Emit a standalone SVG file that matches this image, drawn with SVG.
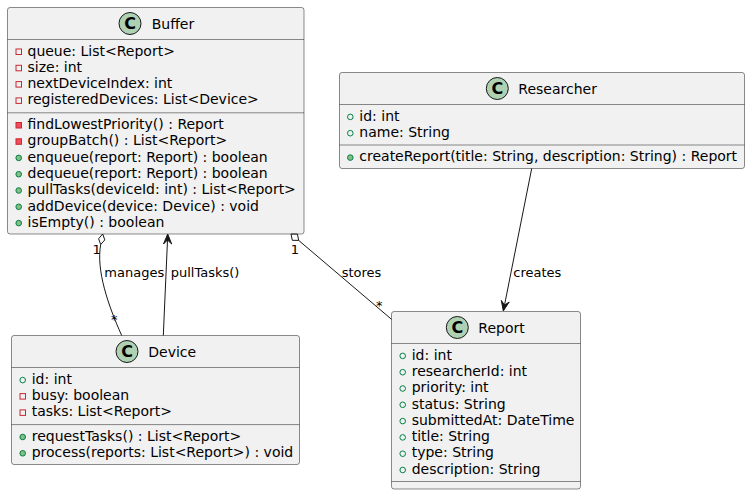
<svg xmlns="http://www.w3.org/2000/svg" width="750" height="495" viewBox="0 0 750 495">
<style>
.box{fill:#F1F1F1;stroke:#181818;stroke-width:0.5}
.sep{stroke:#181818;stroke-width:0.5}
.ci{fill:#ADD1B2;stroke:#181818;stroke-width:1}
.cl{font-family:"DejaVu Sans",sans-serif;font-size:16px;font-weight:bold;fill:#000;text-anchor:middle}
.nm{font-family:"DejaVu Sans",sans-serif;font-size:14px;fill:#000}
.m{font-family:"DejaVu Sans",sans-serif;font-size:14px;fill:#000}
.lb{font-family:"DejaVu Sans",sans-serif;font-size:13px;fill:#000}
.pf{fill:none;stroke:#C82930;stroke-width:1}
.pm{fill:#F24D5C;stroke:#C82930;stroke-width:1}
.uf{fill:none;stroke:#038048;stroke-width:1}
.um{fill:#84BE84;stroke:#038048;stroke-width:1}
.ln{fill:none;stroke:#181818;stroke-width:1}
.ah{fill:#181818;stroke:#181818;stroke-width:1}
.dm{fill:none;stroke:#181818;stroke-width:1}
</style>
<g id="Buffer">
<rect class="box" x="7.5" y="7.5" width="296.5" height="226.5" rx="2.5"/>
<circle class="ci" cx="130" cy="23.5" r="11"/>
<text class="cl" x="130" y="29.3">C</text>
<text class="nm" x="151.7" y="28.5">Buffer</text>
<line class="sep" x1="7.5" y1="39.5" x2="304" y2="39.5"/>
<rect class="pf" x="16" y="49" width="5.5" height="5.5"/>
<text class="m" x="27.5" y="55.5">queue: List&lt;Report&gt;</text>
<rect class="pf" x="16" y="65.3" width="5.5" height="5.5"/>
<text class="m" x="27.5" y="71.8">size: int</text>
<rect class="pf" x="16" y="81.6" width="5.5" height="5.5"/>
<text class="m" x="27.5" y="88.1">nextDeviceIndex: int</text>
<rect class="pf" x="16" y="97.9" width="5.5" height="5.5"/>
<text class="m" x="27.5" y="104.4">registeredDevices: List&lt;Device&gt;</text>
<line class="sep" x1="7.5" y1="112.8" x2="304" y2="112.8"/>
<rect class="pm" x="16" y="122.5" width="5.5" height="5.5"/>
<text class="m" x="27.5" y="129">findLowestPriority() : Report</text>
<rect class="pm" x="16" y="138.8" width="5.5" height="5.5"/>
<text class="m" x="27.5" y="145.3">groupBatch() : List&lt;Report&gt;</text>
<circle class="um" cx="18.7" cy="157.9" r="2.8"/>
<text class="m" x="27.5" y="161.6">enqueue(report: Report) : boolean</text>
<circle class="um" cx="18.7" cy="174.2" r="2.8"/>
<text class="m" x="27.5" y="177.9">dequeue(report: Report) : boolean</text>
<circle class="um" cx="18.7" cy="190.5" r="2.8"/>
<text class="m" x="27.5" y="194.2">pullTasks(deviceId: int) : List&lt;Report&gt;</text>
<circle class="um" cx="18.7" cy="206.8" r="2.8"/>
<text class="m" x="27.5" y="210.5">addDevice(device: Device) : void</text>
<circle class="um" cx="18.7" cy="223.1" r="2.8"/>
<text class="m" x="27.5" y="226.8">isEmpty() : boolean</text>
</g>
<g id="Researcher">
<rect class="box" x="339.5" y="72.5" width="405" height="96" rx="2.5"/>
<circle class="ci" cx="497.3" cy="88.5" r="11"/>
<text class="cl" x="497.3" y="94.3">C</text>
<text class="nm" x="518.3" y="93.5">Researcher</text>
<line class="sep" x1="339.5" y1="104.5" x2="744.5" y2="104.5"/>
<circle class="uf" cx="350.3" cy="116.9" r="2.8"/>
<text class="m" x="359.3" y="120.6">id: int</text>
<circle class="uf" cx="350.3" cy="133.2" r="2.8"/>
<text class="m" x="359.3" y="136.9">name: String</text>
<line class="sep" x1="339.5" y1="145" x2="744.5" y2="145"/>
<circle class="um" cx="350.3" cy="157.6" r="2.8"/>
<text class="m" x="359.3" y="161.3">createReport(title: String, description: String) : Report</text>
</g>
<g id="Device">
<rect class="box" x="11.5" y="335.5" width="288" height="129" rx="2.5"/>
<circle class="ci" cx="127" cy="351.5" r="11"/>
<text class="cl" x="127" y="357.3">C</text>
<text class="nm" x="148.3" y="356.5">Device</text>
<line class="sep" x1="11.5" y1="367.5" x2="299.5" y2="367.5"/>
<circle class="uf" cx="22.7" cy="380.1" r="2.8"/>
<text class="m" x="31.7" y="383.8">id: int</text>
<rect class="pf" x="20" y="393.6" width="5.5" height="5.5"/>
<text class="m" x="31.7" y="400.1">busy: boolean</text>
<rect class="pf" x="20" y="409.9" width="5.5" height="5.5"/>
<text class="m" x="31.7" y="416.4">tasks: List&lt;Report&gt;</text>
<line class="sep" x1="11.5" y1="424.6" x2="299.5" y2="424.6"/>
<circle class="um" cx="22.7" cy="437" r="2.8"/>
<text class="m" x="31.7" y="440.7">requestTasks() : List&lt;Report&gt;</text>
<circle class="um" cx="22.7" cy="453.3" r="2.8"/>
<text class="m" x="31.7" y="457">process(reports: List&lt;Report&gt;) : void</text>
</g>
<g id="Report">
<rect class="box" x="391.5" y="311.5" width="189" height="177.5" rx="2.5"/>
<circle class="ci" cx="457.3" cy="327.5" r="11"/>
<text class="cl" x="457.3" y="333.3">C</text>
<text class="nm" x="478.3" y="332.5">Report</text>
<line class="sep" x1="391.5" y1="343.5" x2="580.5" y2="343.5"/>
<circle class="uf" cx="402.7" cy="355.9" r="2.8"/>
<text class="m" x="411.7" y="359.6">id: int</text>
<circle class="uf" cx="402.7" cy="372.2" r="2.8"/>
<text class="m" x="411.7" y="375.9">researcherId: int</text>
<circle class="uf" cx="402.7" cy="388.5" r="2.8"/>
<text class="m" x="411.7" y="392.2">priority: int</text>
<circle class="uf" cx="402.7" cy="404.8" r="2.8"/>
<text class="m" x="411.7" y="408.5">status: String</text>
<circle class="uf" cx="402.7" cy="421.1" r="2.8"/>
<text class="m" x="411.7" y="424.8">submittedAt: DateTime</text>
<circle class="uf" cx="402.7" cy="437.4" r="2.8"/>
<text class="m" x="411.7" y="441.1">title: String</text>
<circle class="uf" cx="402.7" cy="453.7" r="2.8"/>
<text class="m" x="411.7" y="457.4">type: String</text>
<circle class="uf" cx="402.7" cy="470" r="2.8"/>
<text class="m" x="411.7" y="473.7">description: String</text>
<line class="sep" x1="391.5" y1="481.5" x2="580.5" y2="481.5"/>
</g>
<g id="connectors">
<polygon class="dm" points="102.7,234 104.8,239.9 100.7,244.5 98.6,238.7"/>
<path class="ln" d="M100.7,244.5 C96,270 108,305 121.7,335.5"/>
<text class="lb" x="92.5" y="253.5">1</text>
<text class="lb" x="111" y="324">*</text>
<text class="lb" x="104.3" y="276.7">manages</text>
<path class="ln" d="M163.3,335.5 L167.5,240"/>
<polygon class="ah" points="167.7,234 171.7,244 167.5,240 163.5,244"/>
<text class="lb" x="170.7" y="276.7">pullTasks()</text>
<polygon class="dm" points="291,234 297.4,234.1 298.7,240.4 292.3,240.3"/>
<path class="ln" d="M298.7,240.4 L391.5,319.3"/>
<text class="lb" x="290.7" y="253.5">1</text>
<text class="lb" x="376" y="309.5">*</text>
<text class="lb" x="341.7" y="276.7">stores</text>
<path class="ln" d="M531.7,168.5 L504.5,305.1"/>
<polygon class="ah" points="503.3,311 501.3,300.4 504.5,305.1 509.2,302"/>
<text class="lb" x="513.3" y="276.7">creates</text>
</g>
</svg>
